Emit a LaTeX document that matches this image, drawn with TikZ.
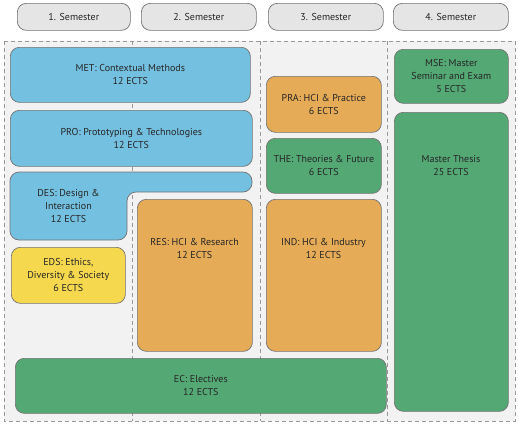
\documentclass[tikz,border=0pt]{standalone}
\usepackage{fontspec}
\setmainfont{PT Sans}
\begin{document}
\begin{tikzpicture}[x=1pt,y=-1pt,
  every node/.style={font=\fontsize{10}{13}\selectfont, text=black!85, align=center},
  box/.style={draw=black!55, line width=0.7pt, rounded corners=9pt, anchor=north west, inner sep=0pt},
  sem/.style={box, fill=black!10},
  grid/.style={draw=black!40, line width=0.7pt, dash pattern=on 4pt off 3pt},
  blue/.style={fill=cBlue}, orange/.style={fill=cOrange}, green/.style={fill=cGreen}, yellow/.style={fill=cYellow}]
\definecolor{cBlue}{HTML}{74C0E0}
\definecolor{cOrange}{HTML}{E6AB57}
\definecolor{cGreen}{HTML}{53A874}
\definecolor{cYellow}{HTML}{F6D84F}
\useasboundingbox (0,0) rectangle (520,424);
% semester headers
\node[sem, minimum width=113pt, minimum height=27pt] (s1) at (17,3) {1. Semester};
\node[sem, minimum width=115pt, minimum height=27pt] (s2) at (141,3) {2. Semester};
\node[sem, minimum width=115pt, minimum height=27pt] (s3) at (268,3) {3. Semester};
\node[sem, minimum width=115pt, minimum height=27pt] (s4) at (393,3) {4. Semester};
% background area
\fill[black!5] (4,41) rectangle (515,421);
\draw[grid] (4,41) rectangle (515,421);
\draw[grid] (132,41) -- (132,421);
\draw[grid] (260,41) -- (260,421);
\draw[grid] (387,41) -- (387,421);
% semester 1-2
\node[box, blue, minimum width=240pt, minimum height=55pt] (met) at (10,47) {MET: Contextual Methods\\12 ECTS};
\node[box, blue, minimum width=242pt, minimum height=56pt] (pro) at (10,110) {PRO: Prototyping \& Technologies\\12 ECTS};
\draw[draw=black!55, line width=0.7pt, rounded corners=9pt, fill=cBlue]
  (10,172) -- (252,172) -- (252,192) -- (127,192) -- (127,240) -- (10,240) -- cycle;
\node (des) at (68.5,206) {DES: Design \&\\Interaction\\12 ECTS};
\node[box, yellow, minimum width=114pt, minimum height=56pt] (eds) at (11,247) {EDS: Ethics,\\Diversity \& Society\\6 ECTS};
\node[box, orange, minimum width=115pt, minimum height=152pt] (res) at (137,199) {};
\node (reslabel) at (194.5,248.5) {RES: HCI \& Research\\12 ECTS};
% semester 3
\node[box, orange, minimum width=115pt, minimum height=56pt] (pra) at (266,76) {PRA: HCI \& Practice\\6 ECTS};
\node[box, green, minimum width=115pt, minimum height=55pt] (the) at (266,138) {THE: Theories \& Future\\6 ECTS};
\node[box, orange, minimum width=115pt, minimum height=152pt] (ind) at (266,199) {};
\node (indlabel) at (323.5,248.5) {IND: HCI \& Industry\\12 ECTS};
% electives
\node[box, green, minimum width=371pt, minimum height=55pt] (ec) at (15,358) {EC: Electives\\12 ECTS};
% semester 4
\node[box, green, minimum width=114pt, minimum height=54pt] (mse) at (394,49) {MSE: Master\\Seminar and Exam\\5 ECTS};
\node[box, green, minimum width=114pt, minimum height=299pt] (thesis) at (394,112) {};
\node (thesislabel) at (451,165.5) {Master Thesis\\25 ECTS};
\end{tikzpicture}
\end{document}
